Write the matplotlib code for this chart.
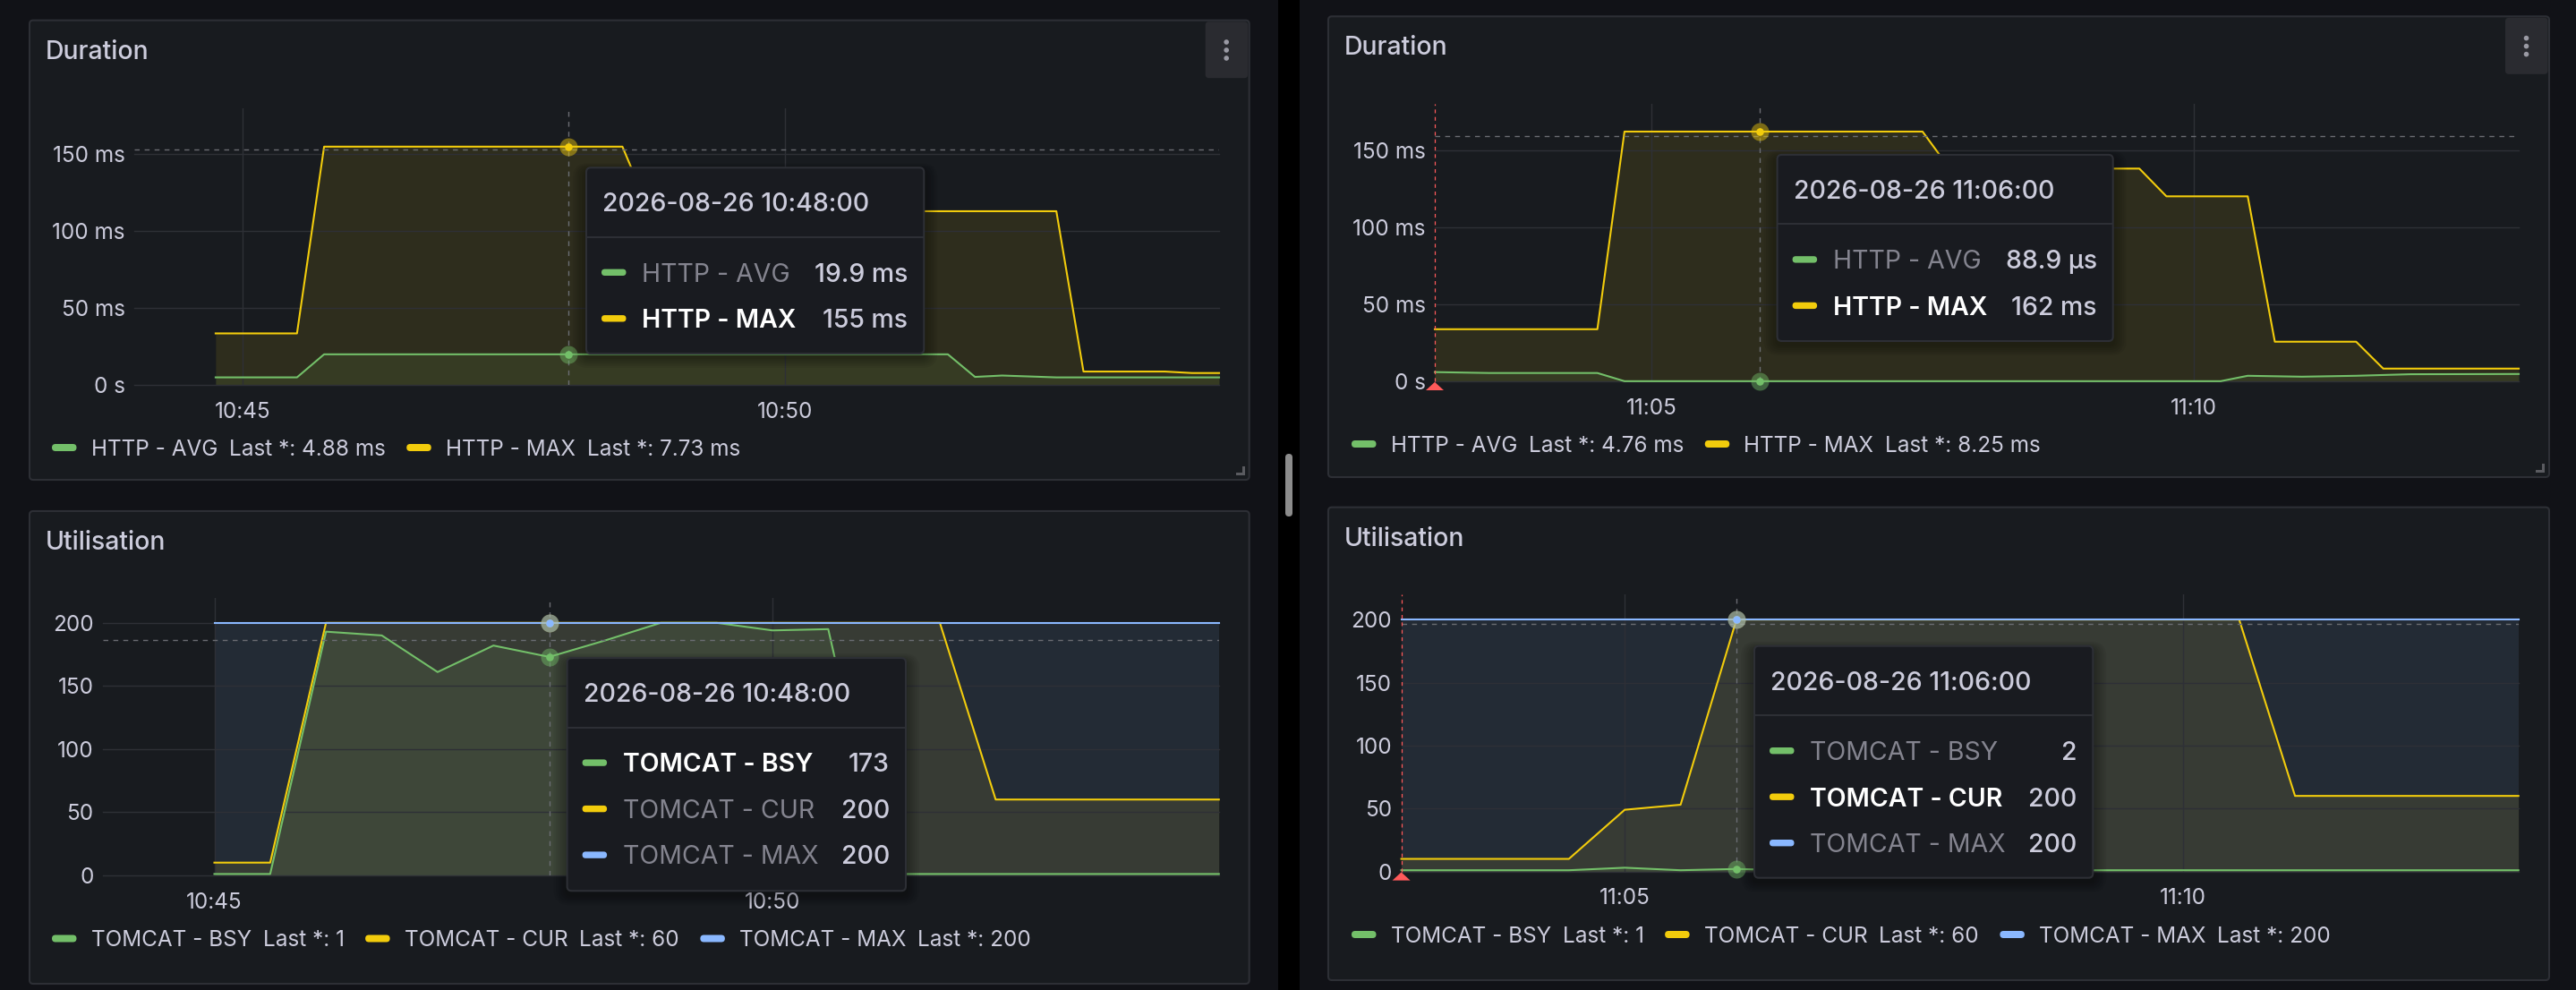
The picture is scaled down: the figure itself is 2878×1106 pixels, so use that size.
import matplotlib
matplotlib.use("Agg")
import matplotlib.pyplot as plt
import matplotlib.dates as mdates
from matplotlib.patches import FancyBboxPatch, Polygon, Rectangle, Circle
from matplotlib.ticker import FuncFormatter, FixedLocator
import pandas as pd

plt.rcParams['font.family'] = ['Inter', 'DejaVu Sans']
plt.rcParams['lines.scale_dashes'] = False

W, H = 2878, 1106
DAY = "2026-08-26 "

# grafana dark-ish colours
BG = "#111217"
PANEL_BG = "#181b1f"
BORDER = "#2d2f35"
TXT = "#ccccdc"
DIM = "#84848f"
GRID = "#2e3036"
CURSOR = "#6a6c72"
GREEN = "#73bf69"
YELLOW = "#f2cc0c"
BLUE = "#8ab8ff"
RED = "#ff5a5a"

# ---- Duration, left dashboard
dur_l_avg_t = ["10:44:45", "10:45:30", "10:45:45", "10:51:30", "10:51:45", "10:52:00", "10:52:15", "10:52:30", "10:54:00"]
dur_l_avg = [4.9, 4.9, 19.9, 19.9, 5.2, 6.1, 5.5, 4.88, 4.88]
dur_l_max_t = ["10:44:45", "10:45:30", "10:45:45", "10:48:30", "10:48:45", "10:52:30", "10:52:45", "10:53:30", "10:53:45", "10:54:00"]
dur_l_max = [33.5, 33.5, 155, 155, 113, 113, 8.7, 8.7, 7.73, 7.73]

# ---- Duration, right dashboard
dur_r_avg_t = ["11:03:00", "11:03:30", "11:04:30", "11:04:45", "11:10:15", "11:10:30", "11:11:00", "11:11:30", "11:12:00", "11:13:00"]
dur_r_avg = [6.0, 5.4, 5.4, 0.0889, 0.0889, 3.6, 3.0, 3.6, 4.6, 4.76]
dur_r_max_t = ["11:03:00", "11:04:30", "11:04:45", "11:07:30", "11:07:45", "11:09:30", "11:09:45", "11:10:30", "11:10:45", "11:11:30", "11:11:45", "11:13:00"]
dur_r_max = [33.8, 33.8, 162, 162, 138, 138, 120, 120, 25.7, 25.7, 8.25, 8.25]

# ---- Utilisation, left dashboard
util_l_bsy_t = ["10:45:00", "10:45:30", "10:46:00", "10:46:30", "10:47:00", "10:47:30", "10:48:00", "10:48:30",
                "10:49:00", "10:49:30", "10:50:00", "10:50:30", "10:51:00", "10:54:00"]
util_l_bsy = [1, 1, 193, 190, 161, 182, 173, 186, 200, 200, 194, 195, 1, 1]
util_l_cur_t = ["10:45:00", "10:45:30", "10:46:00", "10:51:30", "10:52:00", "10:54:00"]
util_l_cur = [10, 10, 200, 200, 60, 60]
util_l_max_t = ["10:45:00", "10:54:00"]
util_l_max = [200, 200]

# ---- Utilisation, right dashboard
util_r_bsy_t = ["11:03:00", "11:04:30", "11:05:00", "11:05:30", "11:06:00", "11:06:30", "11:13:00"]
util_r_bsy = [1, 1, 3, 1, 2, 1, 1]
util_r_cur_t = ["11:03:00", "11:04:30", "11:05:00", "11:05:30", "11:06:00", "11:10:30", "11:11:00", "11:13:00"]
util_r_cur = [10, 10, 49, 53, 200, 200, 60, 60]
util_r_max_t = ["11:03:00", "11:13:00"]
util_r_max = [200, 200]

dur_names = ["HTTP - AVG", "HTTP - MAX"]
util_names = ["TOMCAT - BSY", "TOMCAT - CUR", "TOMCAT - MAX"]

# hover / tooltip values
dur_l_hover = [19.9, 155]
dur_l_tip = ["19.9 ms", "155 ms"]
dur_r_hover = [0.0889, 162]
dur_r_tip = ["88.9 µs", "162 ms"]
util_l_hover = [173, 200, 200]
util_l_tip = ["173", "200", "200"]
util_r_hover = [2, 200, 200]
util_r_tip = ["2", "200", "200"]

# legend "Last *" values
dur_l_last = ["4.88 ms", "7.73 ms"]
dur_r_last = ["4.76 ms", "8.25 ms"]
util_l_last = ["1", "60", "200"]
util_r_last = ["1", "60", "200"]


def tm(s):
    return mdates.date2num(pd.to_datetime(DAY + s))


def tms(lst):
    return [tm(s) for s in lst]


def dur_fmt(v, _):
    return "0 s" if v == 0 else "%g ms" % v


panels = [
    dict(box=(33, 22.7, 1395.7, 536), plot=(150, 120.9, 1362, 430), title="Duration",
         xr=("10:44:00", "10:54:00"), ymax=180, yticks=[0, 50, 100, 150], yfmt=dur_fmt,
         series=[(dur_l_avg_t, dur_l_avg, GREEN), (dur_l_max_t, dur_l_max, YELLOW)],
         names=dur_names, hover_t="10:48:00", hover_v=dur_l_hover, cross_y=153.4,
         tip_box=(655, 187.3, 1032.3, 395), tip_vals=dur_l_tip, tip_hi=1,
         last=dur_l_last, legend_x=58, legend_y=500, menu=True, annot=False),
    dict(box=(1484, 18.3, 2848, 533), plot=(1603, 116, 2814, 426), title="Duration",
         xr=("11:03:00", "11:13:00"), ymax=180, yticks=[0, 50, 100, 150], yfmt=dur_fmt,
         series=[(dur_r_avg_t, dur_r_avg, GREEN), (dur_r_max_t, dur_r_max, YELLOW)],
         names=dur_names, hover_t="11:06:00", hover_v=dur_r_hover, cross_y=159,
         tip_box=(1985.6, 172.9, 2360.7, 381), tip_vals=dur_r_tip, tip_hi=1,
         last=dur_r_last, legend_x=1510, legend_y=496, menu=True, annot=True),
    dict(box=(33, 571, 1395.7, 1099), plot=(114.8, 667.6, 1361.8, 977.8), title="Utilisation",
         xr=("10:44:00", "10:54:00"), ymax=220, yticks=[0, 50, 100, 150, 200], yfmt=lambda v, _: "%d" % v,
         series=[(util_l_bsy_t, util_l_bsy, GREEN), (util_l_cur_t, util_l_cur, YELLOW), (util_l_max_t, util_l_max, BLUE)],
         names=util_names, hover_t="10:48:00", hover_v=util_l_hover, cross_y=186.6,
         tip_box=(633.6, 735.1, 1012, 995.2), tip_vals=util_l_tip, tip_hi=0,
         last=util_l_last, legend_x=58, legend_y=1048.5, menu=False, annot=False),
    dict(box=(1484, 566.7, 2848, 1095), plot=(1565.6, 664, 2813.7, 973.6), title="Utilisation",
         xr=("11:03:00", "11:13:00"), ymax=220, yticks=[0, 50, 100, 150, 200], yfmt=lambda v, _: "%d" % v,
         series=[(util_r_bsy_t, util_r_bsy, GREEN), (util_r_cur_t, util_r_cur, YELLOW), (util_r_max_t, util_r_max, BLUE)],
         names=util_names, hover_t="11:06:00", hover_v=util_r_hover, cross_y=196.9,
         tip_box=(1960, 721.7, 2338.3, 980.7), tip_vals=util_r_tip, tip_hi=1,
         last=util_r_last, legend_x=1510, legend_y=1044, menu=False, annot=True),
]

fig = plt.figure(figsize=(W / 100, H / 100), dpi=100, facecolor=BG)

base = fig.add_axes([0, 0, 1, 1], label="base")
base.set_xlim(0, W)
base.set_ylim(H, 0)
base.axis("off")
base.set_zorder(0)

over = fig.add_axes([0, 0, 1, 1], label="over")
over.set_xlim(0, W)
over.set_ylim(H, 0)
over.axis("off")
over.set_zorder(5)
over.patch.set_alpha(0)


def put(ax, x, yc, s, size, color, **kw):
    # place text so the cap-height centre sits on yc (pixel coords, y down)
    return ax.text(x, yc + 0.505 * size, s, fontsize=size, color=color, va="baseline", **kw)


# scrollbar strip between the two dashboards
base.add_patch(Rectangle((1428, 0), 24, H, fc="black", ec="none"))
base.add_patch(FancyBboxPatch((1436, 507), 8, 70, boxstyle="round,pad=0,rounding_size=4",
                              fc="#8c8c8c", ec="none"))

renderer = fig.canvas.get_renderer()

for p in panels:
    x0, y0, x1, y1 = p["box"]
    base.add_patch(FancyBboxPatch((x0, y0), x1 - x0, y1 - y0, boxstyle="round,pad=0,rounding_size=4",
                                  fc=PANEL_BG, ec=BORDER, lw=1.5))
    put(base, x0 + 17.5, y0 + 32.7, p["title"], 20.5, TXT, fontweight="medium")

    if p["menu"]:
        base.add_patch(FancyBboxPatch((x1 - 49, y0 + 1.5), 47.5, 63, boxstyle="round,pad=0,rounding_size=4",
                                      fc="#2a2b30", ec="none"))
        for dy in (24.3, 33.3, 42.3):
            base.add_patch(Circle((x1 - 25.5, y0 + dy), 2.8, fc="#9a9aa4", ec="none"))
        base.add_patch(Rectangle((x1 - 8, y1 - 15), 3, 10, fc="#5a5b60", ec="none"))
        base.add_patch(Rectangle((x1 - 15, y1 - 8), 10, 3, fc="#5a5b60", ec="none"))

    px0, py0, px1, py1 = p["plot"]
    ax = fig.add_axes([px0 / W, 1 - py1 / H, (px1 - px0) / W, (py1 - py0) / H])
    ax.set_zorder(1)
    ax.patch.set_alpha(0)
    for s in ax.spines.values():
        s.set_visible(False)
    t_lo, t_hi = tm(p["xr"][0]), tm(p["xr"][1])
    ax.set_xlim(t_lo, t_hi)
    ax.set_ylim(0, p["ymax"])
    ax.xaxis.set_major_locator(mdates.MinuteLocator(byminute=range(0, 60, 5)))
    ax.xaxis.set_major_formatter(mdates.DateFormatter("%H:%M"))
    ax.yaxis.set_major_locator(FixedLocator(p["yticks"]))
    ax.yaxis.set_major_formatter(FuncFormatter(p["yfmt"]))
    ax.grid(True, color=GRID, lw=1.0)
    for gl in ax.get_ygridlines():
        gl.set_clip_on(False)
    ax.tick_params(length=0, labelcolor=TXT, labelsize=17.5)
    ax.tick_params(axis="y", pad=7.5)
    ax.tick_params(axis="x", pad=13.5)

    for t, v, c in p["series"]:
        ax.fill_between(tms(t), v, 0, color=c, alpha=0.1, lw=0)
    for t, v, c in p["series"]:
        ax.plot(tms(t), v, color=c, lw=1.5, solid_joinstyle="round", clip_on=False)

    # hover cursor
    th = tm(p["hover_t"])
    ax.axvline(th, color=CURSOR, lw=1.0, dashes=(4, 4))
    ax.axhline(p["cross_y"], color=CURSOR, lw=1.0, dashes=(4, 4))
    for (t, v, c), hv in zip(p["series"], p["hover_v"]):
        ax.plot([th], [hv], "o", ms=14.4, color=c, alpha=0.45, mec="none", clip_on=False)
        ax.plot([th], [hv], "o", ms=6.2, color=c, mec="none", clip_on=False)

    if p["annot"]:
        ax.axvline(t_lo, color=RED, lw=0.9, dashes=(3, 3), clip_on=False)
        base_x = px0
        over.add_patch(Polygon([(base_x - 10, py1 + 10), (base_x + 10, py1 + 10), (base_x, py1 + 0.8)],
                               closed=True, fc=RED, ec="none"))

    # legend under the plot
    lx, ly = p["legend_x"], p["legend_y"]
    for (t, v, c), name, last in zip(p["series"], p["names"], p["last"]):
        base.add_patch(FancyBboxPatch((lx, ly - 4), 27.5, 8, boxstyle="round,pad=0,rounding_size=4",
                                      fc=c, ec="none"))
        lx += 27.5 + 16
        tx = put(base, lx, ly, name, 17.5, TXT)
        lx += tx.get_window_extent(renderer).width + 13
        tx = put(base, lx, ly, "Last *: " + last, 17.5, TXT)
        lx += tx.get_window_extent(renderer).width + 23.5

    # tooltip
    tx0, ty0, tx1, ty1 = p["tip_box"]
    for k in range(1, 7):
        over.add_patch(FancyBboxPatch((tx0 - k * 2.5, ty0 - k * 1.5 + 4), tx1 - tx0 + k * 5, ty1 - ty0 + k * 3.5,
                                      boxstyle="round,pad=0,rounding_size=%g" % (5 + k * 2),
                                      fc="black", ec="none", alpha=0.05))
    over.add_patch(FancyBboxPatch((tx0, ty0), tx1 - tx0, ty1 - ty0, boxstyle="round,pad=0,rounding_size=5",
                                  fc="#191b20", ec=BORDER, lw=1.5))
    over.plot([tx0 + 1, tx1 - 1], [ty0 + 77.5, ty0 + 77.5], color=BORDER, lw=1.5)
    put(over, tx0 + 18, ty0 + 38.5, DAY + p["hover_t"], 20.5, TXT, fontweight="medium")
    for i, ((t, v, c), name, val) in enumerate(zip(p["series"], p["names"], p["tip_vals"])):
        yc = ty0 + 117 + 51.5 * i
        over.add_patch(FancyBboxPatch((tx0 + 17, yc - 3.7), 27.5, 7.4, boxstyle="round,pad=0,rounding_size=3.7",
                                      fc=c, ec="none"))
        hi = i == p["tip_hi"]
        put(over, tx0 + 62, yc, name, 20.5, "white" if hi else DIM,
            fontweight="semibold" if hi else "normal")
        put(over, tx1 - 18, yc, val, 20.5, TXT, ha="right", fontweight="medium")

fig.savefig("out.png", dpi=100, facecolor=BG)
